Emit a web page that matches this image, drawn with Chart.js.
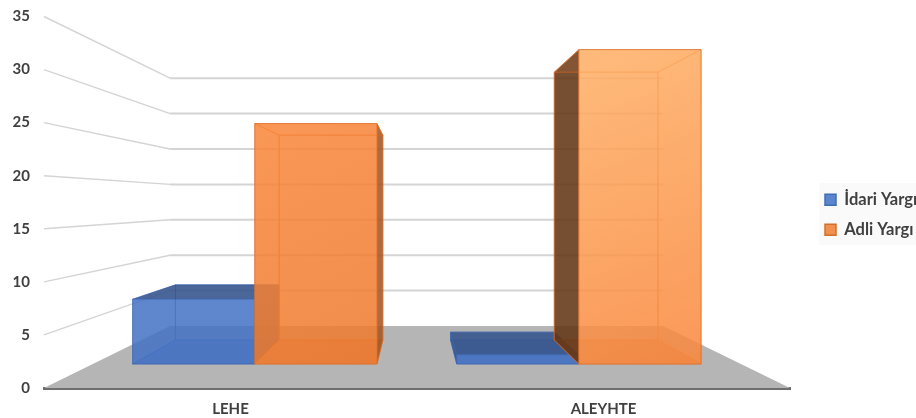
<!DOCTYPE html>
<html>
<head>
<meta charset="utf-8">
<title>Lehe / Aleyhte</title>
<script src="https://cdn.jsdelivr.net/npm/chart.js@4"></script>
<style>
  html, body { margin: 0; padding: 0; background: #fff; overflow: hidden; }
  canvas { display: block; filter: blur(0.45px); }
</style>
</head>
<body>
<canvas id="grafik" width="916" height="418"></canvas>
<script>
// Data
let kategoriler = ["LEHE", "ALEYHTE"];
let idariYargi = [7, 1];
let adliYargi = [26, 34];
let seriAdlari = ["İdari Yargı", "Adli Yargı"];
let eksenMax = 35;
let eksenAdim = 5;

// Perspective: back wall is the front plane shrunk and moved back
let arkaSol = 0.169, arkaSag = 0.170, arkaOlcek = 0.667, arkaYukari = 62;
// Bars stand between these two depths (0 = front edge, 1 = back wall)
let barOn = 0.387, barArka = 0.774;

// Face colours per series: front, inside face, outside faces, floor of the box, edge
let renkler = [
    { on: ["rgba(68,114,196,0.84)", "rgba(68,114,196,0.84)"], ic: "rgba(60,105,185,0.10)", dis: "rgba(54,84,140,0.88)", disSag: "rgba(54,84,140,0.88)", taban: "rgba(50,95,175,0.45)", kenar: "rgba(58,100,175,0.55)" },
    { on: ["rgba(238,122,45,0.84)", "rgba(250,135,60,0.84)"], ic: "rgba(215,105,40,0.12)", dis: "rgba(95,52,20,0.85)", disSag: "rgba(160,85,35,0.85)", taban: "rgba(205,100,40,0.50)", kenar: "rgba(222,112,45,0.65)" }
];
// The ALEYHTE orange bar is lighter towards its top
let acikUst = "rgba(255,178,105,0.85)";

function nokta(ca, px, py, t) {
    let u = (px - ca.left) / ca.width;
    let bx = ca.left + ca.width * arkaSol + u * ca.width * (1 - arkaSol - arkaSag);
    let by = ca.bottom - arkaYukari + (py - ca.bottom) * arkaOlcek;
    return { x: px + (bx - px) * t, y: py + (by - py) * t };
}

function yuzey(ctx, noktalar, dolgu, kenar) {
    ctx.beginPath();
    noktalar.forEach(function (n, i) {
        if (i === 0) ctx.moveTo(n.x, n.y); else ctx.lineTo(n.x, n.y);
    });
    ctx.closePath();
    ctx.fillStyle = dolgu;
    ctx.fill();
    if (kenar) {
        ctx.strokeStyle = kenar;
        ctx.lineWidth = 1;
        ctx.stroke();
    }
}

function kutuCiz(chart, bar, r, j, s) {
    let ctx = chart.ctx, ca = chart.chartArea;
    let sol = bar.x - bar.width / 2, sag = bar.x + bar.width / 2;
    let p = function (x, y, t) { return nokta(ca, x, y, t); };
    let a = p(sol, bar.y, barOn), b = p(sag, bar.y, barOn), c = p(sag, bar.base, barOn), d = p(sol, bar.base, barOn);
    let e = p(sol, bar.y, barArka), f = p(sag, bar.y, barArka), g = p(sag, bar.base, barArka), h = p(sol, bar.base, barArka);

    yuzey(ctx, [e, f, g, h], r.ic, r.kenar);
    yuzey(ctx, [d, c, g, h], r.taban, r.kenar);
    yuzey(ctx, [a, e, h, d], e.x < a.x ? r.dis : r.ic, r.kenar);
    yuzey(ctx, [b, f, g, c], f.x > b.x ? r.disSag : r.ic, r.kenar);
    yuzey(ctx, [a, b, f, e], e.y < a.y ? r.dis : r.ic, r.kenar);

    let gr = ctx.createLinearGradient(a.x, a.y, c.x, c.y);
    if (s === 1 && j === 1) {
        gr.addColorStop(0, acikUst);
        gr.addColorStop(1, r.on[1]);
    } else {
        gr.addColorStop(0, r.on[1]);
        gr.addColorStop(1, r.on[0]);
    }
    yuzey(ctx, [a, b, c, d], gr, r.kenar);
}

let sahne = {
    id: "sahne",
    beforeInit: function (chart) {
        // legend keeps a wider strip so the plot ends where the floor ends
        let eskiFit = chart.legend.fit;
        chart.legend.fit = function () {
            eskiFit.call(this);
            this.width = 126;
        };
    },
    afterLayout: function (chart) {
        chart.legend.left = 811.5;
        chart.legend.top = 178;
    },
    beforeDraw: function (chart) {
        let ctx = chart.ctx;
        ctx.save();
        ctx.fillStyle = "#fafafa";
        ctx.fillRect(chart.legend.left + 7.5, 183, 97, 62);
        ctx.restore();
    },
    // walls, floor and boxes are all projected from the chart's own scales
    beforeDatasetsDraw: function (chart) {
        let ctx = chart.ctx, ca = chart.chartArea, y = chart.scales.y;
        ctx.save();

        // Floor
        yuzey(ctx, [
            nokta(ca, ca.left, ca.bottom, 0), nokta(ca, ca.right, ca.bottom, 0),
            nokta(ca, ca.right, ca.bottom, 1), nokta(ca, ca.left, ca.bottom, 1)
        ], "#b5b5b5");

        // Gridlines: front-left tick to the back wall, then across it
        y.ticks.forEach(function (tick) {
            if (tick.value === 0) return;
            let py = y.getPixelForValue(tick.value);
            let n0 = nokta(ca, ca.left, py, 0), n1 = nokta(ca, ca.left, py, 1), n2 = nokta(ca, ca.right, py, 1);
            ctx.strokeStyle = "#d4d4d4";
            ctx.lineWidth = 1.4;
            ctx.beginPath();
            ctx.moveTo(n0.x, n0.y);
            ctx.lineTo(n1.x, n1.y);
            ctx.stroke();
            ctx.lineWidth = 2;
            ctx.beginPath();
            ctx.moveTo(n1.x, n1.y);
            ctx.lineTo(n2.x, n2.y);
            ctx.stroke();
        });

        // Boxes, category by category, blue before orange
        kategoriler.forEach(function (k, j) {
            renkler.forEach(function (r, s) {
                kutuCiz(chart, chart.getDatasetMeta(s).data[j], r, j, s);
            });
        });
        ctx.restore();
        return false;
    }
};

let grafik = new Chart(document.getElementById("grafik").getContext("2d"), {
    type: "bar",
    data: {
        labels: kategoriler,
        datasets: [
            { label: seriAdlari[0], data: idariYargi, backgroundColor: "#5b86cd", borderColor: "#3f6cb3", borderWidth: 1.5 },
            { label: seriAdlari[1], data: adliYargi, backgroundColor: "#f2904f", borderColor: "#d0702b", borderWidth: 1.5 }
        ]
    },
    options: {
        responsive: false,
        animation: false,
        devicePixelRatio: 1,
        layout: { padding: { top: 16.5, left: 0, right: 0, bottom: 0 } },
        datasets: { bar: { categoryPercentage: 0.754, barPercentage: 1 } },
        scales: {
            x: {
                afterFit: function (s) { s.height = 30; },
                grid: { display: false, drawTicks: false },
                border: { display: true, color: "#6e6e6e", width: 3 },
                ticks: { color: "#404040", padding: 12, font: { family: "Lato", weight: "bold", size: 15 } }
            },
            y: {
                min: 0,
                max: eksenMax,
                afterFit: function (s) {
                    s.width = 44;
                    // tick padding should not push the plot down
                    s.paddingTop = 0;
                    s.paddingBottom = 0;
                },
                grid: { display: false, drawTicks: false },
                border: { display: false },
                ticks: { stepSize: eksenAdim, color: "#404040", padding: 14, font: { family: "Lato", weight: "bold", size: 15 } }
            }
        },
        plugins: {
            tooltip: { enabled: false },
            legend: {
                position: "right",
                align: "start",
                labels: {
                    boxWidth: 11,
                    boxHeight: 11,
                    padding: 13.5,
                    color: "#404040",
                    font: { family: "Lato", weight: "bold", size: 16.5 }
                }
            }
        }
    },
    plugins: [sahne]
});
</script>
</body>
</html>
